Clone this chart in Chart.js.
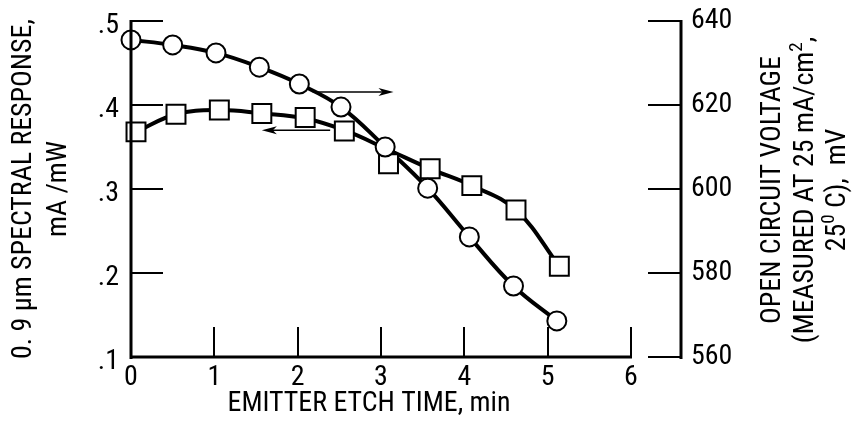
<!DOCTYPE html>
<html>
<head>
<meta charset="utf-8">
<script src="https://cdn.jsdelivr.net/npm/chart.js@4"></script>
<style>
  html, body { margin: 0; padding: 0; background: #fff; }
  #wrap { width: 855px; height: 432px; position: relative; }
</style>
</head>
<body>
<div id="wrap"><canvas id="etchChart"></canvas></div>
<script>
// open circuit voltage (circles, right axis)
const vocTime = [0, 0.5, 1.02, 1.54, 2.02, 2.52, 3.05, 3.56, 4.06, 4.59, 5.11];
const vocValues = [635.5, 634.3, 632.4, 629.0, 625.0, 619.5, 610.0, 600.2, 588.6, 576.9, 568.6];

// 0.9 um spectral response (squares, left axis)
const respTime = [0.06, 0.54, 1.06, 1.57, 2.09, 2.56, 3.09, 3.59, 4.09, 4.62, 5.14];
const respValues = [0.368, 0.389, 0.394, 0.390, 0.385, 0.369, 0.330, 0.324, 0.304, 0.275, 0.208];

// faired curve through the squares (runs above the point near 3 min)
const respCurveTime = [0.06, 0.54, 1.06, 1.57, 2.09, 2.56, 3.08, 3.59, 4.09, 4.62, 5.14];
const respCurveValues = [0.368, 0.389, 0.394, 0.390, 0.384, 0.370, 0.347, 0.324, 0.304, 0.275, 0.208];

const timeTicks = [0, 1, 2, 3, 4, 5, 6];
const respTicks = [0.1, 0.2, 0.3, 0.4, 0.5];
const vocTicks = [560, 580, 600, 620, 640];

// the original uses a condensed sans; take whichever narrow face is installed
const fontCandidates = [
    ["", "'Liberation Sans Narrow'"],
    ["condensed", "'Noto Sans'"],
    ["", "'Noto Sans Condensed'"],
    ["condensed", "'Open Sans'"],
    ["condensed", "Roboto"],
    ["condensed", "'DejaVu Sans'"],
    ["", "'DejaVu Sans Condensed'"]
];
const probe = document.createElement("canvas").getContext("2d");
function measure(stretch, family, size, text) {
    probe.font = "10px monospace";
    probe.font = (stretch ? stretch + " " : "") + size + "px " + family + ", monospace";
    if (probe.font.indexOf(size + "px") < 0) return Infinity;
    return probe.measureText(text).width;
}
let best = fontCandidates[fontCandidates.length - 1], bestErr = Infinity;
fontCandidates.forEach(([st, fam]) => {
    const err = Math.abs(measure(st, fam, 27, "OPEN CIRCUIT VOLTAGE") - 268);
    if (err < bestErr) { bestErr = err; best = [st, fam]; }
});
const STRETCH = best[0];
const FAMILY = best[1] + ", sans-serif";
const SIZE = Math.max(23, Math.min(29, 27 * 268 / measure(STRETCH, best[1], 27, "OPEN CIRCUIT VOLTAGE")));
const fontStr = s => (STRETCH ? STRETCH + " " : "") + s + "px " + FAMILY;
const font = { family: FAMILY, size: SIZE, weight: STRETCH || undefined };
const TICK = 32;

const pts = (xs, ys) => xs.map((t, i) => ({ x: t, y: ys[i] }));

// text for the right hand title, drawn by hand so it reads bottom to top
const rightTitle = [
    [{ t: "OPEN CIRCUIT VOLTAGE" }],
    [{ t: "(MEASURED AT 25 mA/cm" }, { t: "2", sup: true }, { t: "," }],
    [{ t: "25" }, { t: "0", sup: true }, { t: " C),  mV" }]
];

// axis pieces as filled bars
const hbar = (ctx, xa, xb, yy, w = 2) => ctx.fillRect(Math.min(xa, xb), yy - w / 2, Math.abs(xb - xa), w);
const vbar = (ctx, xx, ya, yb, w = 2) => ctx.fillRect(xx - w / 2, Math.min(ya, yb), w, Math.abs(yb - ya));

function arrow(ctx, x1, x2, yp) {
    const dir = Math.sign(x2 - x1);
    ctx.beginPath();
    ctx.moveTo(x1, yp);
    ctx.lineTo(x2 - dir * 8, yp);
    ctx.stroke();
    ctx.beginPath();
    ctx.moveTo(x2, yp);
    ctx.lineTo(x2 - dir * 15, yp - 4);
    ctx.lineTo(x2 - dir * 11, yp);
    ctx.lineTo(x2 - dir * 15, yp + 4);
    ctx.closePath();
    ctx.fill();
}

const frame = {
    id: "frame",
    afterDraw(chart) {
        const { ctx, chartArea, scales } = chart;
        const sx = scales.x, sy = scales.y, sv = scales.y2;
        const x0 = Math.round(chartArea.left);
        const yTop = Math.round(chartArea.top);
        const yb = Math.round(chartArea.bottom);
        const xr = Math.round(chartArea.right);
        const x6 = Math.round(sx.getPixelForValue(timeTicks[timeTicks.length - 1]));

        ctx.save();
        ctx.fillStyle = "#000";
        ctx.strokeStyle = "#000";
        // left axis with inward ticks
        vbar(ctx, x0, yTop - 1, yb + 2, 3);
        respTicks.forEach(v => hbar(ctx, x0, x0 + TICK, Math.round(sy.getPixelForValue(v))));
        // bottom axis stops at 6, ticks point up
        hbar(ctx, x0 - 1, x6 + 1, yb, 3);
        timeTicks.slice(1).forEach(v => vbar(ctx, Math.round(sx.getPixelForValue(v)), yb - 30, yb));
        // right axis
        vbar(ctx, xr, yTop - 1, yb + 2, 3);
        vocTicks.forEach(v => hbar(ctx, xr - TICK - 1, xr, Math.round(sv.getPixelForValue(v))));

        // arrows telling which axis goes with which curve
        ctx.lineWidth = 1.6;
        arrow(ctx, sx.getPixelForValue(2.18), sx.getPixelForValue(3.15), sy.getPixelForValue(0.4155));
        arrow(ctx, sx.getPixelForValue(2.39), sx.getPixelForValue(1.57), sy.getPixelForValue(0.370));

        // x axis title, set a little left of centre as in the original
        const main = fontStr(SIZE);
        const sup = fontStr(Math.round(SIZE * 0.68));
        ctx.textBaseline = "middle";
        ctx.font = main;
        ctx.textAlign = "center";
        const cx = (sx.getPixelForValue(0) + sx.getPixelForValue(6)) / 2 - 12;
        ctx.fillText("EMITTER ETCH TIME, min", cx, chartArea.bottom + 47);

        // right title, reading bottom to top
        ctx.textAlign = "left";
        ctx.translate(chartArea.right + 92, (chartArea.top + chartArea.bottom) / 2 + 1);
        ctx.rotate(-Math.PI / 2);
        const offsets = [0, 33, 65];
        rightTitle.forEach((runs, i) => {
            const widths = runs.map(r => {
                ctx.font = r.sup ? sup : main;
                return ctx.measureText(r.t).width;
            });
            let pos = -widths.reduce((a, b) => a + b, 0) / 2;
            runs.forEach((r, j) => {
                ctx.font = r.sup ? sup : main;
                ctx.fillText(r.t, pos, offsets[i] - (r.sup ? 9 : 0));
                pos += widths[j];
            });
        });
        ctx.restore();
    }
};

const noPadY = s => { s.paddingTop = 0; s.paddingBottom = 0; };

const ctx = document.getElementById("etchChart").getContext("2d");
new Chart(ctx, {
    type: "line",
    data: {
        datasets: [
            {
                label: "Open circuit voltage",
                data: pts(vocTime, vocValues),
                yAxisID: "y2",
                showLine: false,
                pointStyle: "circle",
                pointRadius: 9.5,
                pointBorderWidth: 2,
                pointBackgroundColor: "#fff",
                pointBorderColor: "#000",
                order: 0,
                clip: false
            },
            {
                label: "Spectral response",
                data: pts(respTime, respValues),
                yAxisID: "y",
                showLine: false,
                pointStyle: "rect",
                pointRadius: 13.4,
                pointBorderWidth: 2,
                pointBackgroundColor: "#fff",
                pointBorderColor: "#000",
                order: 1,
                clip: false
            },
            {
                label: "Voc curve",
                data: pts(vocTime, vocValues),
                yAxisID: "y2",
                borderColor: "#000",
                borderWidth: 4,
                pointRadius: 0,
                tension: 0.4,
                order: 2,
                clip: false
            },
            {
                label: "Response curve",
                data: pts(respCurveTime, respCurveValues),
                yAxisID: "y",
                borderColor: "#000",
                borderWidth: 4,
                pointRadius: 0,
                tension: 0.4,
                order: 3,
                clip: false
            }
        ]
    },
    options: {
        responsive: true,
        maintainAspectRatio: false,
        animation: false,
        layout: { padding: { top: 21, left: 0, right: 0, bottom: 0 } },
        plugins: {
            legend: { display: false },
            tooltip: { enabled: false }
        },
        scales: {
            x: {
                type: "linear",
                min: 0,
                max: 6.6,
                afterBuildTicks: s => { s.ticks = timeTicks.map(v => ({ value: v })); },
                afterFit: s => { s.height = 75; s.paddingLeft = 0; s.paddingRight = 0; },
                grid: { display: false, drawTicks: false },
                border: { display: false },
                ticks: { font, color: "#000", padding: 4, maxRotation: 0, autoSkip: false, callback: v => String(v) }
            },
            y: {
                position: "left",
                min: 0.1,
                max: 0.5,
                afterBuildTicks: s => { s.ticks = respTicks.map(v => ({ value: v })); },
                afterFit: s => { s.width = 131; noPadY(s); },
                grid: { display: false, drawTicks: false },
                border: { display: false },
                ticks: { font, color: "#000", padding: 12, labelOffset: 5, callback: v => "." + Math.round(v * 10) },
                title: {
                    display: true,
                    text: ["0. 9 \u00b5m SPECTRAL RESPONSE,", "mA /mW"],
                    font: { family: FAMILY, size: SIZE, weight: STRETCH || undefined, lineHeight: 1.25 },
                    color: "#000",
                    padding: { top: 7, bottom: 0 }
                }
            },
            y2: {
                position: "right",
                min: 560,
                max: 640,
                afterBuildTicks: s => { s.ticks = vocTicks.map(v => ({ value: v })); },
                afterFit: s => { s.width = 174; noPadY(s); },
                grid: { display: false, drawTicks: false },
                border: { display: false },
                ticks: { font, color: "#000", padding: 10 }
            }
        }
    },
    plugins: [frame]
});
</script>
</body>
</html>
